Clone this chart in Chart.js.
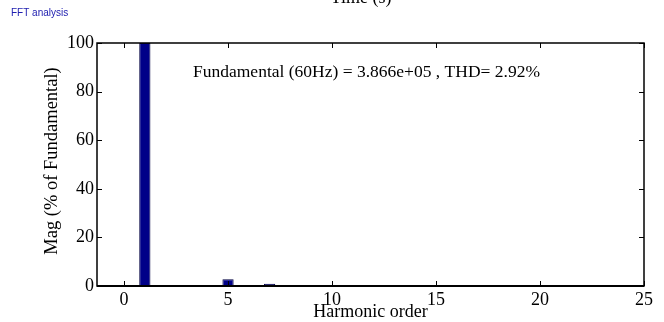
<!DOCTYPE html>
<html lang="en">
<head>
  <meta charset="UTF-8">
  <title>FFT analysis</title>
  <script src="https://cdn.jsdelivr.net/npm/chart.js"></script>
  <style>
    html, body {
      margin: 0;
      padding: 0;
      background: #ffffff;
    }
    #wrap {
      position: relative;
      width: 664px;
      height: 322px;
    }
  </style>
</head>
<body>
  <div id="wrap">
    <canvas id="fft" width="664" height="322"></canvas>
  </div>
  <script>
    // harmonic order and magnitude in % of fundamental
    const harmonics = [0, 1, 2, 3, 4, 5, 6, 7, 8, 9, 10, 11, 12, 13, 14, 15, 16, 17, 18, 19, 20, 21, 22, 23, 24, 25];
    const magnitudes = [0.1, 100, 0.15, 0.2, 0.1, 2.75, 0.1, 0.9, 0.05, 0.1, 0.05, 0.25, 0.05, 0.2, 0.05, 0.05, 0.05, 0.1, 0.05, 0.1, 0.05, 0.05, 0.05, 0.05, 0.05, 0.05];
    const xTicks = [0, 5, 10, 15, 20, 25];
    const yTicks = [0, 20, 40, 60, 80, 100];
    const fundamentalText = 'Fundamental (60Hz) = 3.866e+05 , THD= 2.92%';

    const serif = '"Liberation Serif", "Times New Roman", serif';

    // axes box with inward ticks on all four sides, plus the axis labels
    const matlabFrame = {
      id: 'matlabFrame',
      afterDraw(chart) {
        const ctx = chart.ctx;
        const area = chart.chartArea;
        const xs = chart.scales.x;
        const ys = chart.scales.y;
        ctx.save();
        ctx.strokeStyle = '#000';
        ctx.lineWidth = 1;
        ctx.beginPath();
        xTicks.forEach(v => {
          const px = Math.round(xs.getPixelForValue(v)) + 0.5;
          ctx.moveTo(px, area.bottom);
          ctx.lineTo(px, area.bottom - 5);
          ctx.moveTo(px, area.top);
          ctx.lineTo(px, area.top + 5);
        });
        yTicks.forEach(v => {
          const py = Math.round(ys.getPixelForValue(v)) + 0.5;
          ctx.moveTo(area.left, py);
          ctx.lineTo(area.left + 5, py);
          ctx.moveTo(area.right, py);
          ctx.lineTo(area.right - 5, py);
        });
        ctx.stroke();

        ctx.lineWidth = 1.5;
        ctx.strokeRect(area.left, area.top, area.right - area.left, area.bottom - area.top);
        // heavy baseline under the bars
        ctx.lineWidth = 2;
        ctx.beginPath();
        ctx.moveTo(area.left, area.bottom);
        ctx.lineTo(area.right, area.bottom);
        ctx.stroke();

        ctx.fillStyle = '#000';
        ctx.font = '17.5px ' + serif;
        ctx.textBaseline = 'alphabetic';
        ctx.textAlign = 'left';
        ctx.fillText(fundamentalText, 193, 77);

        ctx.textAlign = 'center';
        ctx.font = '18px ' + serif;
        ctx.fillText('Time (s)', 361, 3);
        ctx.fillText('Harmonic order', (area.left + area.right) / 2, 317);

        ctx.save();
        ctx.translate(57, 161);
        ctx.rotate(-Math.PI / 2);
        ctx.font = '18.5px ' + serif;
        ctx.fillText('Mag (% of Fundamental)', 0, 0);
        ctx.restore();

        ctx.textAlign = 'left';
        ctx.fillStyle = '#2020b0';
        ctx.font = '10px "Liberation Sans Narrow", "Liberation Sans", sans-serif';
        ctx.fillText('FFT analysis', 11, 16);
        ctx.restore();
      }
    };

    new Chart(document.getElementById('fft'), {
      type: 'bar',
      data: {
        datasets: [{
          data: harmonics.map((h, i) => ({ x: h, y: magnitudes[i] })),
          backgroundColor: '#000088',
          borderColor: '#000040',
          borderWidth: 1,
          categoryPercentage: 1,
          barPercentage: 0.54
        }]
      },
      options: {
        responsive: false,
        animation: false,
        devicePixelRatio: 1,
        layout: { padding: { left: 0, right: 20, top: 43, bottom: 0 } },
        plugins: {
          legend: { display: false },
          tooltip: { enabled: false }
        },
        scales: {
          x: {
            type: 'linear',
            offset: false,
            min: -1.3,
            max: 25,
            afterBuildTicks: s => { s.ticks = xTicks.map(v => ({ value: v })); },
            afterFit: s => { s.height = 36; },
            grid: { display: false, drawTicks: false },
            border: { display: false },
            ticks: {
              color: '#000',
              padding: 3,
              maxRotation: 0,
              autoSkip: false,
              font: { family: serif, size: 18 }
            }
          },
          y: {
            min: 0,
            max: 100,
            afterBuildTicks: s => { s.ticks = yTicks.map(v => ({ value: v })); },
            afterFit: s => { s.width = 97; },
            grid: { display: false, drawTicks: false },
            border: { display: false },
            ticks: {
              color: '#000',
              padding: 3,
              font: { family: serif, size: 18 }
            }
          }
        }
      },
      plugins: [matlabFrame]
    });
  </script>
</body>
</html>
